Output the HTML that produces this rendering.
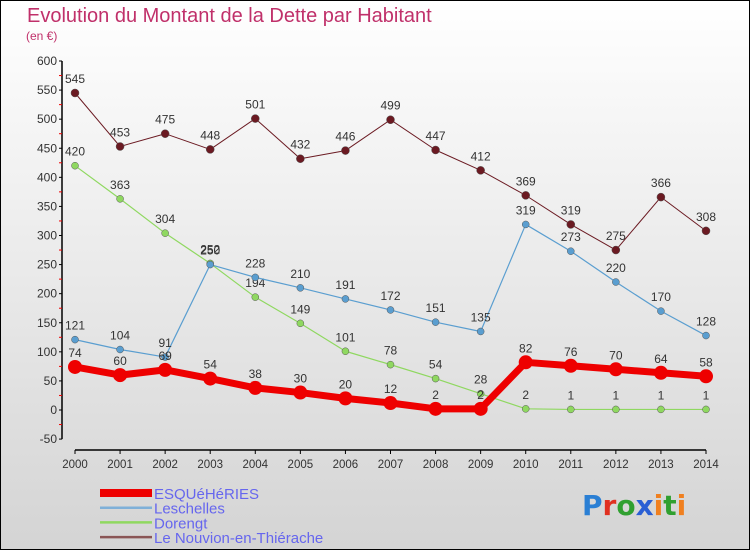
<!DOCTYPE html>
<html><head><meta charset="utf-8"><style>
body{margin:0;width:750px;height:550px;overflow:hidden;font-family:"Liberation Sans",sans-serif}
</style></head><body>
<svg id="c" width="750" height="550" xmlns="http://www.w3.org/2000/svg">
<defs><linearGradient id="bg" x1="0" y1="0" x2="0" y2="1"><stop offset="0" stop-color="#ffffff"/><stop offset="1" stop-color="#d4d4d4"/></linearGradient></defs>
<rect x="0.5" y="0.5" width="749" height="549" fill="url(#bg)" stroke="#000"/>
<text x="27" y="22" font-size="20" fill="#c0306a">Evolution du Montant de la Dette par Habitant</text>
<text x="26" y="40" font-size="12" fill="#c0306a">(en €)</text>
<g id="axes"></g><g id="series"></g><g id="legend"></g>
<text x="582" y="515" font-size="28" font-weight="bold" font-family="'DejaVu Sans',sans-serif"><tspan fill="#2a7fd4">P</tspan><tspan fill="#e03020">r</tspan><tspan fill="#30a030">o</tspan><tspan fill="#2a5fd4">x</tspan><tspan fill="#f08020">i</tspan><tspan fill="#30a030">t</tspan><tspan fill="#f08020">i</tspan></text>
</svg>
<script>
const years=[2000,2001,2002,2003,2004,2005,2006,2007,2008,2009,2010,2011,2012,2013,2014];
const esq=[74,60,69,54,38,30,20,12,2,2,82,76,70,64,58];
const lesch=[121,104,91,250,228,210,191,172,151,135,319,273,220,170,128];
const dor=[420,363,304,252,194,149,101,78,54,28,2,1,1,1,1];
const nouv=[545,453,475,448,501,432,446,499,447,412,369,319,275,366,308];
const yTicks=[-50,0,50,100,150,200,250,300,350,400,450,500,550,600];
const names=["ESQUéHéRIES","Leschelles","Dorengt","Le Nouvion-en-Thiérache"];
const NS="http://www.w3.org/2000/svg";
const X=i=>75+i*(706-75)/(years.length-1);
const Y=v=>410-v*(349/600);
function mk(t,a,p){const e=document.createElementNS(NS,t);for(const k in a)e.setAttribute(k,a[k]);(p||document.getElementById('series')).appendChild(e);return e;}
const ax=document.getElementById('axes');
let e=mk('line',{x1:62,y1:Y(600),x2:62,y2:Y(-50),stroke:'#000','stroke-width':1.5},ax);

e=mk('line',{x1:75,y1:450,x2:706,y2:450,stroke:'#000','stroke-width':1.5},ax);

yTicks.forEach(v=>{
 mk('line',{x1:59,y1:Y(v),x2:62,y2:Y(v),stroke:'#000'},ax);
 if(v<600)mk('line',{x1:59,y1:Y(v+25),x2:62,y2:Y(v+25),stroke:'#e00'},ax);
 const t=mk('text',{x:57,y:Y(v)+4,'font-size':12,'text-anchor':'end',fill:'#333'},ax);t.textContent=v;
 
});
years.forEach((y,i)=>{
 mk('line',{x1:X(i),y1:450,x2:X(i),y2:454,stroke:'#000'},ax);
 const t=mk('text',{x:X(i),y:468,'font-size':11.5,'text-anchor':'middle',fill:'#333'},ax);t.textContent=y;
 
});
function series(d,color,w,r,name){
 const p=mk('polyline',{points:d.map((v,i)=>X(i)+','+Y(v)).join(' '),fill:'none',stroke:color,'stroke-width':w,'stroke-linejoin':'round'});
 
 d.forEach((v,i)=>{
  const c=mk('circle',{cx:X(i),cy:Y(v),r:r,fill:color,stroke:w>3?'none':'#555','stroke-width':0.5});
  
  const t=mk('text',{x:X(i),y:Y(v)-10,'font-size':12,'text-anchor':'middle',fill:'#333'});t.textContent=v;
  
 });
}
series(nouv,'#6b1a22',1,4,'nouvion');
series(dor,'#8fd860',1.2,3.5,'dorengt');
series(lesch,'#5a9ed0',1.2,3.5,'leschelles');
series(esq,'#ee0000',7,7,'esqueheries');
const lg=document.getElementById('legend');
const cols=['#ee0000','#7fb0d8','#8fd860','#8a5555'],ws=[8,2.5,2.5,2.5];
names.forEach((n,i)=>{
 const y=493+i*14.7;
 const l=mk('line',{x1:100,y1:y,x2:152,y2:y,stroke:cols[i],'stroke-width':ws[i]},lg);
 
 const t=mk('text',{x:154,y:y+6,'font-size':15,fill:'#6666ee'},lg);t.textContent=n;
 
});
</script>
</body></html>
